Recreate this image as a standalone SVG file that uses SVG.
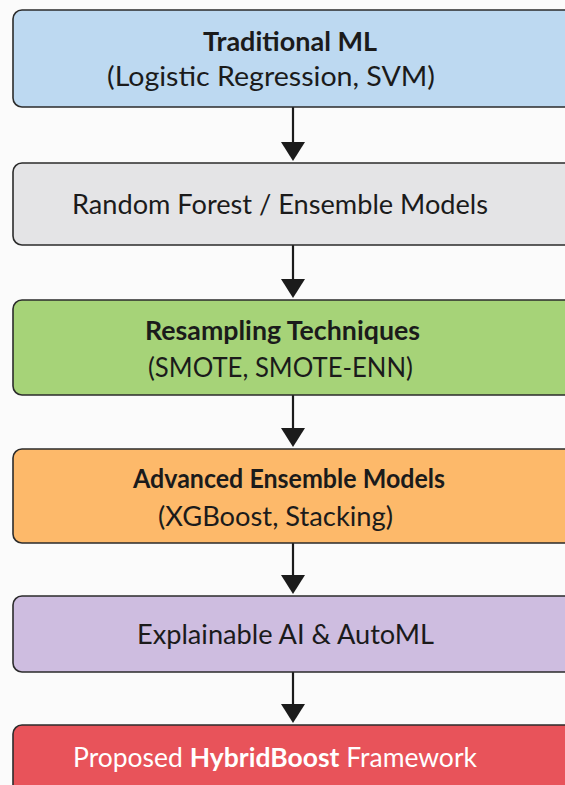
<svg xmlns="http://www.w3.org/2000/svg" width="565" height="785" viewBox="0 0 565 785">
<defs>
<style>
.box{stroke:#2b2b2b;stroke-width:1.6}
.t{font-family:Lato,"Open Sans",sans-serif;fill:#1b1b1b;font-size:27px}
.b{font-weight:bold;font-size:26px}
.edge{stroke:#1b1b1b;stroke-width:2.2;fill:none}
.head{fill:#1b1b1b}
</style>
</defs>
<rect width="565" height="785" fill="#fbfbfb"/>
<g id="connectors">
<line class="edge" x1="293" y1="107" x2="293" y2="142"/><path class="head" d="M281,142 L305,142 L293,161 Z"/>
<line class="edge" x1="293" y1="245" x2="293" y2="279"/><path class="head" d="M281,279 L305,279 L293,298 Z"/>
<line class="edge" x1="293" y1="395" x2="293" y2="428"/><path class="head" d="M281,428 L305,428 L293,447 Z"/>
<line class="edge" x1="293" y1="543" x2="293" y2="575"/><path class="head" d="M281,575 L305,575 L293,594 Z"/>
<line class="edge" x1="293" y1="672" x2="293" y2="704"/><path class="head" d="M281,704 L305,704 L293,723 Z"/>
</g>
<g id="n1">
<rect class="box" x="13" y="10" width="570" height="97" rx="9" fill="#bdd9f1"/>
<text class="t b" x="203" y="51" textLength="174" lengthAdjust="spacingAndGlyphs">Traditional ML</text>
<text class="t" x="107" y="86" textLength="328" lengthAdjust="spacingAndGlyphs">(Logistic Regression, SVM)</text>
</g>
<g id="n2">
<rect class="box" x="13" y="163" width="570" height="82" rx="9" fill="#e4e4e6"/>
<text class="t" x="72" y="214" textLength="416" lengthAdjust="spacingAndGlyphs">Random Forest / Ensemble Models</text>
</g>
<g id="n3">
<rect class="box" x="13" y="300" width="570" height="95" rx="9" fill="#a6d378"/>
<text class="t b" x="145" y="340" textLength="275" lengthAdjust="spacingAndGlyphs">Resampling Techniques</text>
<text class="t" x="148" y="377" textLength="265" lengthAdjust="spacingAndGlyphs">(SMOTE, SMOTE-ENN)</text>
</g>
<g id="n4">
<rect class="box" x="13" y="449" width="570" height="94" rx="9" fill="#fdb96a"/>
<text class="t b" x="133" y="488" textLength="312" lengthAdjust="spacingAndGlyphs">Advanced Ensemble Models</text>
<text class="t" x="158" y="526" textLength="235" lengthAdjust="spacingAndGlyphs">(XGBoost, Stacking)</text>
</g>
<g id="n5">
<rect class="box" x="13" y="596" width="570" height="76" rx="9" fill="#cebde0"/>
<text class="t" x="137" y="644" textLength="297" lengthAdjust="spacingAndGlyphs">Explainable AI &amp; AutoML</text>
</g>
<g id="n6">
<rect class="box" x="13" y="725" width="570" height="80" rx="9" fill="#e8535a"/>
<text class="t" x="73" y="767" textLength="404" lengthAdjust="spacingAndGlyphs" style="fill:#fff">Proposed <tspan style="font-weight:bold">HybridBoost</tspan> Framework</text>
</g>
</svg>
